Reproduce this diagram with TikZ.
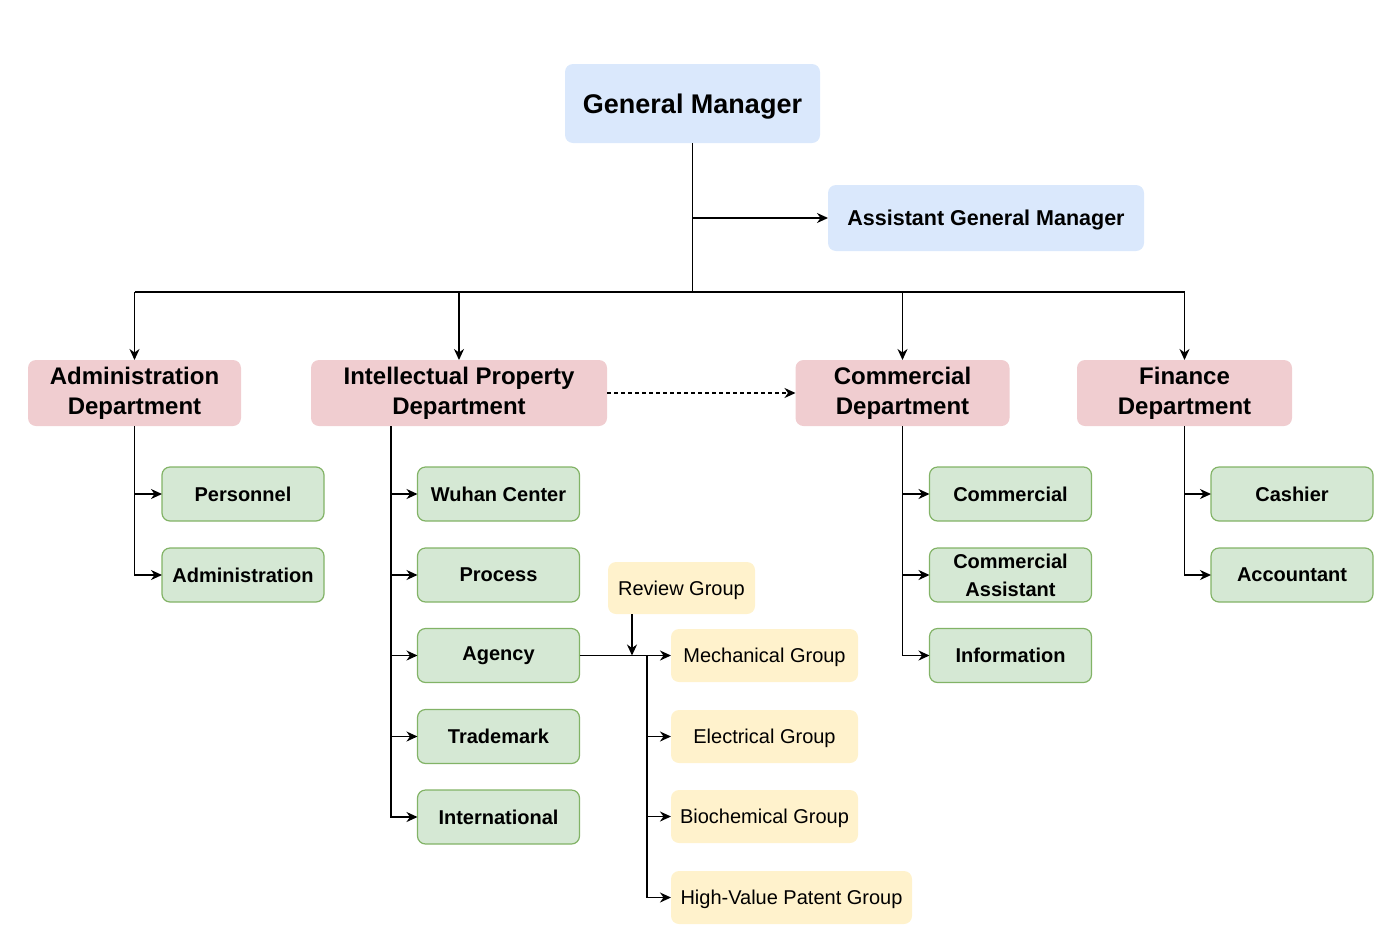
\documentclass[tikz,border=0pt]{standalone}
\usepackage{fontspec}
\setmainfont{Liberation Sans}
\usetikzlibrary{arrows.meta}
\definecolor{blueF}{HTML}{DAE8FC}
\definecolor{pinkF}{HTML}{F0CDD0}
\definecolor{greenF}{HTML}{D5E8D4}
\definecolor{greenS}{HTML}{82B366}
\definecolor{yellowF}{HTML}{FFF2CC}
\tikzset{
  box/.style={rounded corners=8pt, align=center, inner sep=0pt, outer sep=0pt},
  topbox/.style={box, fill=blueF, text depth=0pt, font=\bfseries\fontsize{27}{32}\selectfont},
  agmbox/.style={box, fill=blueF, text depth=0pt, font=\bfseries\fontsize{21.5}{26}\selectfont},
  deptbox/.style={box, fill=pinkF, minimum height=66pt, font=\bfseries\fontsize{24}{30}\selectfont},
  unitbox/.style={box, fill=greenF, draw=greenS, line width=1.2pt, minimum width=162pt, minimum height=54pt, font=\bfseries\fontsize{20}{28}\selectfont},
  groupbox/.style={box, fill=yellowF, minimum height=53pt, text depth=0pt, font=\fontsize{20}{25}\selectfont},
  link/.style={line width=1.5pt, draw=black},
  arr/.style={link, -{Stealth[length=11pt,width=10pt,inset=3.5pt]}},
}
\begin{document}
\begin{tikzpicture}[x=1pt,y=-1pt]
\useasboundingbox (0,0) rectangle (1400,951);
% top
\node[topbox, minimum width=255pt, minimum height=79pt] (gm) at (692.5,103.5) {General Manager};
\node[agmbox, minimum width=316pt, minimum height=66pt] (agm) at (986,218) {Assistant General Manager};
% departments
\node[deptbox, minimum width=213pt] (admin) at (134.5,393) {Administration\\Department};
\node[deptbox, minimum width=296pt] (ip) at (459,393) {Intellectual Property\\Department};
\node[deptbox, minimum width=214pt] (comm) at (902.5,393) {Commercial\\Department};
\node[deptbox, minimum width=215pt] (fin) at (1184.5,393) {Finance\\Department};
% admin units
\node[unitbox] (pers) at (243,494) {Personnel};
\node[unitbox] (adm) at (243,575) {Administration};
% IP units
\node[unitbox] (wuhan) at (498.5,494) {Wuhan Center};
\node[unitbox] (proc) at (498.5,575) {Process};
\node[unitbox] (agency) at (498.5,655.5) {Agency};
\node[unitbox] (trade) at (498.5,736.5) {Trademark};
\node[unitbox] (intl) at (498.5,817) {International};
% commercial units
\node[unitbox] (cu1) at (1010.5,494) {Commercial};
\node[unitbox] (cu2) at (1010.5,575) {Commercial\\Assistant};
\node[unitbox] (cu3) at (1010.5,655.5) {Information};
% finance units
\node[unitbox] (cash) at (1292,494) {Cashier};
\node[unitbox] (acct) at (1292,575) {Accountant};
% groups
\node[groupbox, minimum width=147pt, minimum height=52pt] (review) at (681.5,588) {Review Group};
\node[groupbox, minimum width=187pt] (mech) at (764.5,655.5) {Mechanical Group};
\node[groupbox, minimum width=187pt] (elec) at (764.5,736.5) {Electrical Group};
\node[groupbox, minimum width=187pt] (bio) at (764.5,816.5) {Biochemical Group};
\node[groupbox, minimum width=241pt] (hv) at (791.5,897.5) {High-Value Patent Group};
% connector coordinates
\coordinate (busy) at (0,292);
\coordinate (ipx) at (391,426);
\coordinate (aj) at (647,655.5);
\coordinate (rx) at (632,614);
% GM connectors
\draw[link] (gm.south) -- (gm.south |- busy);
\draw[arr] (gm.south |- agm) -- (agm.west);
\draw[link] (admin.north |- busy) -- (fin.north |- busy);
\draw[arr] (admin.north |- busy) -- (admin.north);
\draw[arr] (ip.north |- busy) -- (ip.north);
\draw[arr] (comm.north |- busy) -- (comm.north);
\draw[arr] (fin.north |- busy) -- (fin.north);
% dashed
\draw[arr, dash pattern=on 4pt off 3pt] (ip.east) -- (comm.west);
% admin
\draw[arr] (admin.south) |- (pers.west);
\draw[arr] (admin.south) |- (adm.west);
% IP
\draw[link] (ip.south -| ipx) -- (ipx);
\draw[arr] (ipx) |- (wuhan.west);
\draw[arr] (ipx) |- (proc.west);
\draw[arr] (ipx) |- (agency.west);
\draw[arr] (ipx) |- (trade.west);
\draw[arr] (ipx) |- (intl.west);
% agency groups
\draw[arr] (agency.east) -- (mech.west);
\draw[arr] (aj) |- (elec.west);
\draw[arr] (aj) |- (bio.west);
\draw[arr] (aj) |- (hv.west);
\draw[arr] (review.south -| rx) -- (rx |- agency);
% commercial
\draw[arr] (comm.south) |- (cu1.west);
\draw[arr] (comm.south) |- (cu2.west);
\draw[arr] (comm.south) |- (cu3.west);
% finance
\draw[arr] (fin.south) |- (cash.west);
\draw[arr] (fin.south) |- (acct.west);
\end{tikzpicture}
\end{document}
